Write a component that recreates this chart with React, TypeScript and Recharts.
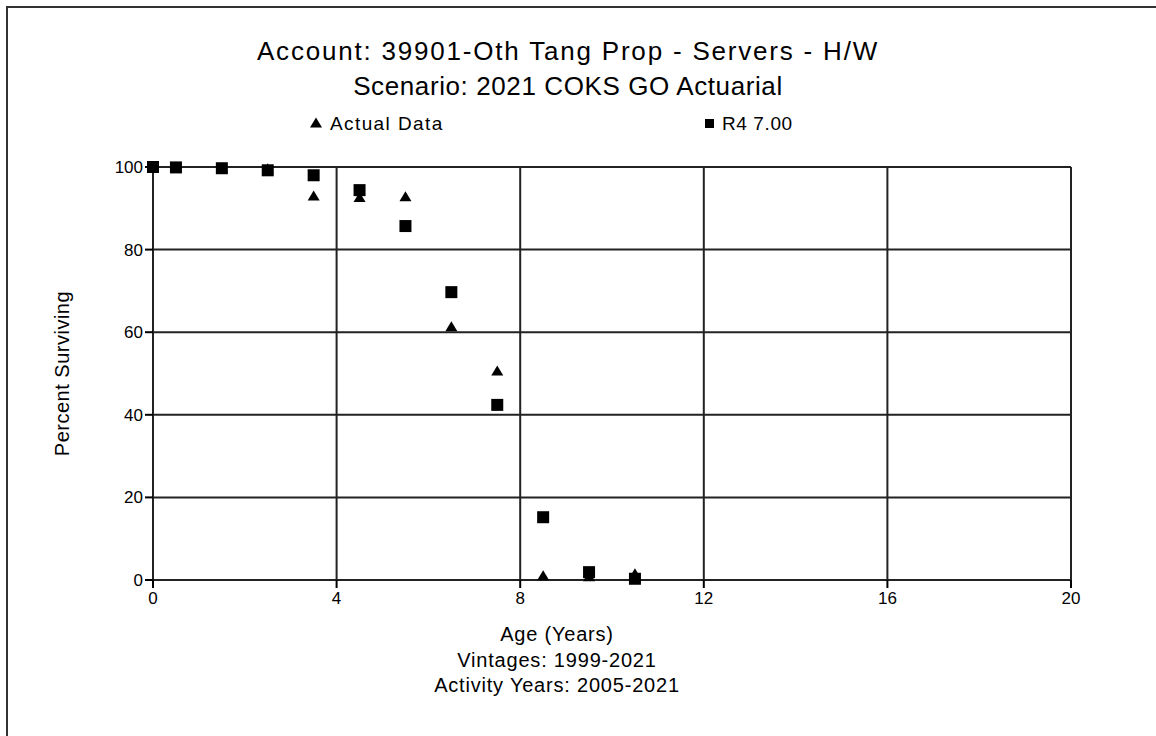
// Survivor curve chart: observed survival vs fitted Iowa R4 curve

import { ScatterChart, Scatter, XAxis, YAxis, CartesianGrid } from 'recharts';

const ages = [0, 0.5, 1.5, 2.5, 3.5, 4.5, 5.5, 6.5, 7.5, 8.5, 9.5, 10.5];
const actualData = [100, 100, 99.8, 99.6, 93.0, 92.6, 92.8, 61.3, 50.6, 1.0, 0.8, 1.5];
const r4Curve = [100, 99.9, 99.7, 99.2, 98.0, 94.4, 85.7, 69.7, 42.4, 15.2, 1.9, 0.3];

const xTicks = [0, 4, 8, 12, 16, 20];
const yTicks = [0, 20, 40, 60, 80, 100];

const titleLines = ['Account: 39901-Oth Tang Prop - Servers - H/W', 'Scenario: 2021 COKS GO Actuarial'];
const xLabelLines = ['Age (Years)', 'Vintages: 1999-2021', 'Activity Years: 2005-2021'];

const FONT = '"Liberation Sans", Arial, sans-serif';
const INK = '#000';
const GRID = '#222';

const actualPoints = ages.map((age, i) => ({ age, pct: actualData[i] }));
const r4Points = ages.map((age, i) => ({ age, pct: r4Curve[i] }));

const Triangle = (props: any) => {
  const { cx, cy } = props;
  return (
    <polygon
      points={`${cx},${cy - 5.5} ${cx + 6},${cy + 4.5} ${cx - 6},${cy + 4.5}`}
      fill={INK}
    />
  );
};

const Square = (props: any) => {
  const { cx, cy } = props;
  return <rect x={cx - 6} y={cy - 6} width={12} height={12} fill={INK} />;
};

// source text is noticeably wider than plain Arial, so widen a bit per line
const titleSpacing = [1.8, 0.6];

export default function App() {
  return (
    <div
      style={{
        position: 'absolute',
        left: 0,
        top: 0,
        width: 1156,
        height: 736,
        background: '#fff',
        fontFamily: FONT,
        color: INK,
        overflow: 'hidden',
      }}
    >
      {/* frame (only top and left edges show in the source) */}
      <div
        style={{
          position: 'absolute',
          left: 6,
          top: 6,
          width: 1150,
          height: 730,
          borderLeft: '2px solid #333',
          borderTop: '2px solid #333',
        }}
      />

      {titleLines.map((line, i) => (
        <div
          key={line}
          style={{
            position: 'absolute',
            left: 0,
            width: 1136,
            top: 35 + i * 35,
            textAlign: 'center',
            fontSize: 26,
            lineHeight: '32px',
            letterSpacing: titleSpacing[i],
            whiteSpace: 'nowrap',
          }}
        >
          {line}
        </div>
      ))}

      {/* legend */}
      <svg style={{ position: 'absolute', left: 0, top: 110 }} width={1156} height={28}>
        <Triangle cx={316} cy={13} />
        <text x={330} y={20} fontSize={19} letterSpacing={1.4} fontFamily={FONT} fill={INK}>
          Actual Data
        </text>
        <rect x={705} y={9} width={9} height={9} fill={INK} />
        <text x={722} y={20} fontSize={19} letterSpacing={0.6} fontFamily={FONT} fill={INK}>
          R4 7.00
        </text>
      </svg>

      <ScatterChart
        width={1156}
        height={736}
        margin={{ top: 167, right: 85, bottom: 126, left: 33 }}
        style={{ position: 'absolute', left: 0, top: 0 }}
      >
        <CartesianGrid stroke={GRID} strokeWidth={2} />
        <XAxis
          type="number"
          dataKey="age"
          domain={[0, 20]}
          ticks={xTicks}
          height={30}
          tickSize={8}
          tickMargin={4}
          axisLine={{ stroke: GRID, strokeWidth: 2 }}
          tickLine={{ stroke: INK, strokeWidth: 2 }}
          tick={{ fill: INK, fontSize: 17, fontFamily: FONT }}
          interval={0}
        />
        <YAxis
          type="number"
          dataKey="pct"
          domain={[0, 100]}
          ticks={yTicks}
          width={120}
          tickSize={8}
          tickMargin={2}
          axisLine={{ stroke: GRID, strokeWidth: 2 }}
          tickLine={{ stroke: INK, strokeWidth: 2 }}
          tick={{ fill: INK, fontSize: 17, fontFamily: FONT }}
          interval={0}
          label={{
            value: 'Percent Surviving',
            angle: -90,
            position: 'insideLeft',
            offset: 29,
            style: {
              fill: INK,
              fontSize: 20,
              letterSpacing: 0.5,
              fontFamily: FONT,
              textAnchor: 'middle',
            },
          }}
        />
        <Scatter name="Actual Data" data={actualPoints} shape={Triangle} isAnimationActive={false} />
        <Scatter name="R4 7.00" data={r4Points} shape={Square} isAnimationActive={false} />
      </ScatterChart>

      {xLabelLines.map((line, i) => (
        <div
          key={line}
          style={{
            position: 'absolute',
            left: 407,
            width: 300,
            top: 622 + i * 25.5,
            textAlign: 'center',
            fontSize: 20,
            letterSpacing: 0.8,
            lineHeight: '24px',
            whiteSpace: 'nowrap',
          }}
        >
          {line}
        </div>
      ))}
    </div>
  );
}
